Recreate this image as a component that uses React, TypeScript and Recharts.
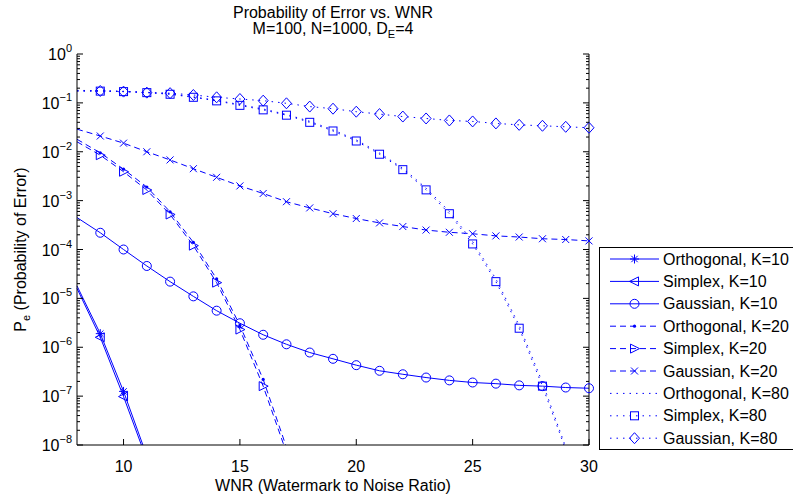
import React from "react";
import { LineChart, Line, XAxis, YAxis, Legend } from "recharts";

// WNR values (x), one entry per data point
const wnr = [8, 9, 10, 11, 12, 13, 14, 15, 16, 17, 18, 19, 20, 21, 22, 23, 24, 25, 26, 27, 28, 29, 30];
const xTicks = [10, 15, 20, 25, 30];
const decadeExponents = [-8, -7, -6, -5, -4, -3, -2, -1, 0];

// probability of error (null = no point)
const orthogonalK10 = [1.8e-5, 1.9e-6, 1.25e-7, 6e-9, null, null, null, null, null, null, null, null, null, null, null, null, null, null, null, null, null, null, null];
const simplexK10 = [1.6e-5, 1.6e-6, 9.8e-8, 5e-9, null, null, null, null, null, null, null, null, null, null, null, null, null, null, null, null, null, null, null];
const gaussianK10 = [4.5e-4, 2.2e-4, 1.0e-4, 4.6e-5, 2.2e-5, 1.1e-5, 5.6e-6, 3.1e-6, 1.8e-6, 1.15e-6, 7.8e-7, 5.8e-7, 4.3e-7, 3.3e-7, 2.8e-7, 2.4e-7, 2.1e-7, 1.9e-7, 1.8e-7, 1.66e-7, 1.6e-7, 1.5e-7, 1.45e-7];
const orthogonalK20 = [1.8e-2, 9.5e-3, 4.4e-3, 1.9e-3, 5.9e-4, 1.4e-4, 2.5e-5, 2.8e-6, 2.2e-7, 9e-9, null, null, null, null, null, null, null, null, null, null, null, null, null];
const simplexK20 = [1.6e-2, 8.5e-3, 3.9e-3, 1.65e-3, 5.2e-4, 1.2e-4, 2.1e-5, 2.3e-6, 1.6e-7, 7e-9, null, null, null, null, null, null, null, null, null, null, null, null, null];
const gaussianK20 = [2.9e-2, 2.1e-2, 1.5e-2, 1.0e-2, 6.8e-3, 4.5e-3, 3.0e-3, 2.0e-3, 1.4e-3, 9.5e-4, 7.1e-4, 5.4e-4, 4.3e-4, 3.5e-4, 2.95e-4, 2.5e-4, 2.25e-4, 2.1e-4, 1.9e-4, 1.8e-4, 1.66e-4, 1.6e-4, 1.5e-4];
const orthogonalK80 = [0.18, 0.178, 0.173, 0.165, 0.153, 0.133, 0.113, 0.092, 0.075, 0.058, 0.042, 0.028, 0.0175, 0.0094, 0.0046, 0.0018, 6e-4, 1.45e-4, 2.5e-5, 2.8e-6, 1.9e-7, 9e-9, null];
const simplexK80 = [0.175, 0.174, 0.17, 0.162, 0.15, 0.13, 0.11, 0.089, 0.072, 0.056, 0.04, 0.0266, 0.0166, 0.0089, 0.0043, 0.00166, 5.4e-4, 1.3e-4, 2.2e-5, 2.45e-6, 1.6e-7, 8e-9, null];
const gaussianK80 = [0.175, 0.175, 0.17, 0.162, 0.158, 0.145, 0.13, 0.12, 0.111, 0.098, 0.084, 0.076, 0.066, 0.059, 0.0525, 0.048, 0.0437, 0.0417, 0.038, 0.0355, 0.034, 0.0324, 0.031];

type Shape = "asterisk" | "triangleLeft" | "circle" | "point" | "triangleRight" | "cross" | "square" | "diamond" | "none";
type Style = "solid" | "dashed" | "dotted";

const series: { key: string; name: string; values: (number | null)[]; style: Style; shape: Shape }[] = [
  { key: "orthK10", name: "Orthogonal, K=10", values: orthogonalK10, style: "solid", shape: "asterisk" },
  { key: "simpK10", name: "Simplex, K=10", values: simplexK10, style: "solid", shape: "triangleLeft" },
  { key: "gaussK10", name: "Gaussian, K=10", values: gaussianK10, style: "solid", shape: "circle" },
  { key: "orthK20", name: "Orthogonal, K=20", values: orthogonalK20, style: "dashed", shape: "point" },
  { key: "simpK20", name: "Simplex, K=20", values: simplexK20, style: "dashed", shape: "triangleRight" },
  { key: "gaussK20", name: "Gaussian, K=20", values: gaussianK20, style: "dashed", shape: "cross" },
  { key: "orthK80", name: "Orthogonal, K=80", values: orthogonalK80, style: "dotted", shape: "none" },
  { key: "simpK80", name: "Simplex, K=80", values: simplexK80, style: "dotted", shape: "square" },
  { key: "gaussK80", name: "Gaussian, K=80", values: gaussianK80, style: "dotted", shape: "diamond" },
];

const BLUE = "#0000ff";
const FONT = '"Liberation Sans", Arial, Helvetica, sans-serif';
const DASH: Record<Style, string | undefined> = { solid: undefined, dashed: "6 4", dotted: "1.5 5" };
const Y_MIN = 1e-8;

const majorTicks = decadeExponents.map((e) => Math.pow(10, e));
const minorTicks = decadeExponents.slice(0, -1).flatMap((e) => [2, 3, 4, 5, 6, 7, 8, 9].map((m) => m * Math.pow(10, e)));
const yTicks = [...majorTicks, ...minorTicks].sort((a, b) => a - b);

// lines use every point; markers skip the clipped edge point at x=8 and off-scale values
const data = wnr.map((x, i) => {
  const row: Record<string, number | null> = { wnr: x };
  series.forEach((s) => {
    const v = s.values[i];
    row[s.key] = v;
    row[s.key + "_m"] = x > 8 && v != null && v >= Y_MIN ? v : null;
  });
  return row;
});

function Marker({ shape, cx, cy }: { shape: Shape; cx: number; cy: number }) {
  const p = { fill: "none", stroke: BLUE, strokeWidth: 1 };
  switch (shape) {
    case "asterisk": {
      const r = 4.5;
      const d = r * 0.7071;
      return <path d={`M${cx - r},${cy}H${cx + r}M${cx},${cy - r}V${cy + r}M${cx - d},${cy - d}L${cx + d},${cy + d}M${cx - d},${cy + d}L${cx + d},${cy - d}`} {...p} />;
    }
    case "triangleLeft":
      return <polygon points={`${cx - 5},${cy} ${cx + 4},${cy - 4.5} ${cx + 4},${cy + 4.5}`} {...p} />;
    case "triangleRight":
      return <polygon points={`${cx + 5},${cy} ${cx - 4},${cy - 4.5} ${cx - 4},${cy + 4.5}`} {...p} />;
    case "circle":
      return <circle cx={cx} cy={cy} r={4.5} {...p} />;
    case "point":
      return <circle cx={cx} cy={cy} r={1.6} fill={BLUE} />;
    case "cross": {
      const r = 3.5;
      return <path d={`M${cx - r},${cy - r}L${cx + r},${cy + r}M${cx - r},${cy + r}L${cx + r},${cy - r}`} {...p} />;
    }
    case "square":
      return <rect x={cx - 4} y={cy - 4} width={8} height={8} {...p} />;
    case "diamond":
      return <polygon points={`${cx},${cy - 5.5} ${cx + 5},${cy} ${cx},${cy + 5.5} ${cx - 5},${cy}`} {...p} />;
    default:
      return null;
  }
}

function isMajor(v: number) {
  const l = Math.log10(v);
  return Math.abs(l - Math.round(l)) < 1e-6;
}

function expLabel(e: number) {
  return e < 0 ? "\u2212" + Math.abs(e) : String(e);
}

const LeftTick = (props: any) => {
  const { x, y, payload } = props;
  const major = isMajor(payload.value);
  const e = Math.round(Math.log10(payload.value));
  return (
    <g>
      <line x1={x} x2={x + (major ? 6 : 3)} y1={y} y2={y} stroke="#000" strokeWidth={1} />
      {major && (
        <text x={x - 5} y={y + 6} textAnchor="end" fontFamily={FONT} fontSize={16} fill="#000">
          10<tspan dy={-8} fontSize={11}>{expLabel(e)}</tspan>
        </text>
      )}
    </g>
  );
};

const RightTick = (props: any) => {
  const { x, y, payload } = props;
  const major = isMajor(payload.value);
  return <line x1={x} x2={x - (major ? 6 : 3)} y1={y} y2={y} stroke="#000" strokeWidth={1} />;
};

const BottomTick = (props: any) => {
  const { x, y, payload } = props;
  return (
    <g>
      <line x1={x} x2={x} y1={y} y2={y - 6} stroke="#000" strokeWidth={1} />
      <text x={x} y={y + 27} textAnchor="middle" fontFamily={FONT} fontSize={16} fill="#000">
        {payload.value}
      </text>
    </g>
  );
};

const TopTick = (props: any) => {
  const { x, y } = props;
  return <line x1={x} x2={x} y1={y} y2={y + 6} stroke="#000" strokeWidth={1} />;
};

function LegendBox() {
  return (
    <div style={{ width: 210, height: 203, border: "1px solid #000", boxSizing: "border-box", background: "#fff" }}>
      <svg width={208} height={201} style={{ display: "block" }}>
        {series.map((s, i) => {
          const cy = 11 + i * 22.4;
          return (
            <g key={s.key}>
              <line x1={10} x2={59} y1={cy} y2={cy} stroke={BLUE} strokeWidth={1} strokeDasharray={DASH[s.style]} />
              <Marker shape={s.shape} cx={34.5} cy={cy} />
              <text x={63} y={cy + 5.5} fontFamily={FONT} fontSize={16} fill="#000">
                {s.name}
              </text>
            </g>
          );
        })}
      </svg>
    </div>
  );
}

export default function App() {
  return (
    <div style={{ position: "absolute", left: 0, top: 0, width: 793, height: 502, overflow: "hidden", background: "#fff" }}>
      <LineChart width={793} height={502} data={data} margin={{ top: 54, right: 0, bottom: 0, left: 0 }}>
        <XAxis xAxisId="bottom" dataKey="wnr" type="number" domain={[8, 30]} ticks={xTicks} interval={0}
          height={57} tickSize={0} tickMargin={0} tickLine={false} axisLine={{ stroke: "#000" }} tick={BottomTick} />
        <XAxis xAxisId="top" orientation="top" dataKey="wnr" type="number" domain={[8, 30]} ticks={xTicks} interval={0}
          height={0} tickSize={0} tickMargin={0} tickLine={false} axisLine={{ stroke: "#000" }} tick={TopTick} />
        <YAxis yAxisId="left" scale="log" domain={[Y_MIN, 1]} allowDataOverflow ticks={yTicks} interval={0}
          width={77} tickSize={0} tickMargin={0} tickLine={false} axisLine={{ stroke: "#000" }} tick={LeftTick} />
        <YAxis yAxisId="right" orientation="right" scale="log" domain={[Y_MIN, 1]} ticks={yTicks} interval={0}
          width={204} tickSize={0} tickMargin={0} tickLine={false} axisLine={{ stroke: "#000" }} tick={RightTick} />
        {series.map((s) => (
          <Line key={s.key} xAxisId="bottom" yAxisId="left" type="linear" dataKey={s.key} name={s.name}
            stroke={BLUE} strokeWidth={1} strokeDasharray={DASH[s.style]} dot={false} activeDot={false}
            isAnimationActive={false} />
        ))}
        {series.filter((s) => s.shape !== "none").map((s) => (
          <Line key={s.key + "_m"} xAxisId="bottom" yAxisId="right" type="linear" dataKey={s.key + "_m"}
            stroke="none" legendType="none" activeDot={false} isAnimationActive={false}
            dot={(p: any) => (
              <g key={`${s.key}-${p.index}`}>
                {p.value == null || p.cx == null || p.cy == null ? null : <Marker shape={s.shape} cx={p.cx} cy={p.cy} />}
              </g>
            )} />
        ))}
        <Legend layout="horizontal" verticalAlign="middle" align="center"
          wrapperStyle={{ left: 599, top: 247, width: 210, height: 203 }} content={() => <LegendBox />} />
      </LineChart>
      <svg width={793} height={502} style={{ position: "absolute", left: 0, top: 0, pointerEvents: "none" }}>
        <text x={333} y={18} textAnchor="middle" fontFamily={FONT} fontSize={16} fill="#000">
          Probability of Error vs. WNR
        </text>
        <text x={333} y={34} textAnchor="middle" fontFamily={FONT} fontSize={16} fill="#000">
          M=100, N=1000, D<tspan dy={4} fontSize={11}>E</tspan><tspan dy={-4}>=4</tspan>
        </text>
        <text x={333} y={491} textAnchor="middle" fontFamily={FONT} fontSize={16} fill="#000">
          WNR (Watermark to Noise Ratio)
        </text>
        <text transform="translate(26,249.5) rotate(-90)" textAnchor="middle" fontFamily={FONT} fontSize={16} fill="#000">
          P<tspan dy={4} fontSize={11}>e</tspan><tspan dy={-4}> (Probability of Error)</tspan>
        </text>
      </svg>
    </div>
  );
}
